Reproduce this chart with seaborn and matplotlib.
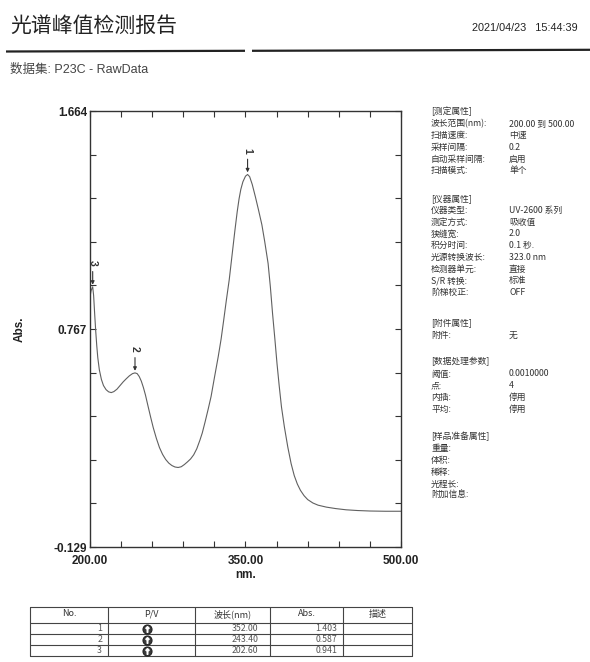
import numpy as np
import pandas as pd
import matplotlib
matplotlib.use("Agg")
import matplotlib.pyplot as plt
import seaborn as sns

# ---- spectrum data (wavelength in nm, absorbance) ----
wavelength = [
    200.0, 201.0, 202.6, 203.5, 204.5, 205.5, 206.5, 207.5, 209.0, 211.0,
    213.0, 215.5, 218.0, 220.5, 223.0, 226.0, 229.0, 232.0, 235.0, 238.0,
    241.0, 243.4, 245.5, 247.5, 249.5, 251.5, 253.5, 256.0, 258.5, 261.0,
    264.0, 267.0, 270.0, 273.0, 276.0, 279.0, 282.0, 285.0, 288.0, 291.0,
    294.0, 297.0, 300.0, 303.0, 306.0, 308.3, 311.0, 314.0, 316.8, 320.0,
    323.7, 326.5, 329.0, 331.5, 334.3, 337.0, 339.7, 342.0, 343.8, 345.5,
    347.5, 350.0, 352.0, 354.0, 356.5, 359.6, 362.5, 365.8, 368.5, 371.8,
    374.0, 376.1, 378.3, 380.4, 382.5, 384.7, 387.5, 390.8, 394.0, 397.0,
    400.0, 403.0, 406.5, 410.0, 415.0, 420.0, 428.0, 437.0, 447.0, 458.0,
    470.0, 485.0, 500.0,
]
absorbance = [
    0.900, 0.925, 0.941, 0.905, 0.830, 0.760, 0.700, 0.650, 0.600, 0.560,
    0.535, 0.518, 0.509, 0.506, 0.510, 0.520, 0.535, 0.550, 0.563, 0.575,
    0.584, 0.587, 0.584, 0.572, 0.553, 0.527, 0.496, 0.450, 0.405, 0.362,
    0.318, 0.280, 0.252, 0.231, 0.216, 0.206, 0.200, 0.198, 0.201, 0.210,
    0.221, 0.233, 0.250, 0.275, 0.310, 0.340, 0.385, 0.438, 0.490, 0.567,
    0.654, 0.727, 0.805, 0.885, 0.970, 1.070, 1.170, 1.250, 1.303, 1.342,
    1.373, 1.396, 1.403, 1.394, 1.362, 1.310, 1.258, 1.196, 1.128, 1.037,
    0.940, 0.831, 0.728, 0.625, 0.534, 0.447, 0.365, 0.282, 0.214, 0.165,
    0.130, 0.104, 0.082, 0.066, 0.052, 0.043, 0.035, 0.029, 0.024, 0.021,
    0.019, 0.018, 0.018,
]

# detected peaks
peak_no = [1, 2, 3]
peak_nm = [352.00, 243.40, 202.60]
peak_abs = [1.403, 0.587, 0.941]

# axis range and labelled ticks
y_min, y_max = -0.129, 1.664
ytick_labels = ["-0.129", "0.767", "1.664"]
x_min, x_max = 200.0, 500.0
xtick_labels = ["200.00", "350.00", "500.00"]

# instrument / method settings shown beside the chart
info_sections = [
    ("[测定属性]", [("波长范围(nm):", "200.00 到 500.00"), ("扫描速度:", "中速"),
                  ("采样间隔:", "0.2"), ("自动采样间隔:", "启用"), ("扫描模式:", "单个")]),
    ("[仪器属性]", [("仪器类型:", "UV-2600 系列"), ("测定方式:", "吸收值"),
                  ("狭缝宽:", "2.0"), ("积分时间:", "0.1 秒."),
                  ("光源转换波长:", "323.0 nm"), ("检测器单元:", "直接"),
                  ("S/R 转换:", "标准"), ("阶梯校正:", "OFF")]),
    ("[附件属性]", [("附件:", "无")]),
    ("[数据处理参数]", [("阈值:", "0.0010000"), ("点:", "4"),
                    ("内插:", "停用"), ("平均:", "停用")]),
    ("[样品准备属性]", [("重量:", ""), ("体积:", ""), ("稀释:", ""),
                    ("光程长:", ""), ("附加信息:", "")]),
]
section_tops = [111.7, 198.3, 323.3, 361.7, 436.7]

table_header = ["No.", "P/V", "波长(nm)", "Abs.", "描述"]

sns.set_theme(style="white")
plt.rcParams["font.family"] = ["Liberation Sans", "DejaVu Sans"]
CJK = ["Noto Sans CJK SC", "DejaVu Sans"]
LATIN_CJK = ["Liberation Sans", "Noto Sans CJK SC"]

W, H = 590, 662
fig = plt.figure(figsize=(W / 100, H / 100), dpi=100)
fig.patch.set_facecolor("white")

# page overlay in pixel coordinates
page = fig.add_axes([0, 0, 1, 1])
page.set_xlim(0, W)
page.set_ylim(H, 0)
page.axis("off")

page.text(10, 26, "光谱峰值检测报告", family=CJK, fontsize=15, color="#222222",
          va="center", ha="left")
page.text(578, 28, "2021/04/23   15:44:39", fontsize=7.8, color="#222222",
          va="center", ha="right")
page.plot([6, 245], [51.5, 50.8], color="#222222", lw=1.6, solid_capstyle="butt")
page.plot([252, 590], [50.8, 49.8], color="#222222", lw=1.6, solid_capstyle="butt")
page.text(10, 70, "数据集: P23C - RawData", family=LATIN_CJK, fontsize=9,
          color="#444444", va="center", ha="left")

# settings panel
for (title, items), top in zip(info_sections, section_tops):
    page.text(431, top, title, family=CJK, fontsize=6.3, color="#333333",
              va="center", ha="left")
    for i, (k, v) in enumerate(items):
        yy = top + 12.3 + 11.7 * i
        page.text(431, yy, k, family=CJK, fontsize=6.3, color="#333333",
                  va="center", ha="left")
        if v:
            page.text(509, yy, v, family=CJK, fontsize=6.3, color="#333333",
                      va="center", ha="left")

# peak table
col_x = [30, 108, 195, 270, 343, 412]
row_y = [607, 623, 634, 645, 656]
for yy in row_y:
    page.plot([col_x[0], col_x[-1]], [yy, yy], color="#444444", lw=0.8)
for xx in col_x:
    page.plot([xx, xx], [row_y[0], row_y[-1]], color="#444444", lw=0.8)
for j, h in enumerate(table_header):
    page.text((col_x[j] + col_x[j + 1]) / 2, (row_y[0] + row_y[1]) / 2 - 1, h,
              family=CJK, fontsize=6.5, color="#333333", ha="center", va="center")
for i, (n, wl, ab) in enumerate(zip(peak_no, peak_nm, peak_abs)):
    yc = (row_y[i + 1] + row_y[i + 2]) / 2
    page.text(102, yc, str(n), family=CJK, fontsize=6.3, color="#555555",
              ha="right", va="center")
    page.plot([147], [yc], marker="o", ms=6.5, mfc="#3a3a3a", mec="#222222", mew=0.8)
    page.plot([147], [yc], marker=r"$\uparrow$", ms=4.0, color="white")
    page.text(258, yc, f"{wl:.2f}", family=CJK, fontsize=6.3, color="#555555",
              ha="right", va="center")
    page.text(337, yc, f"{ab:.3f}", family=CJK, fontsize=6.3, color="#555555",
              ha="right", va="center")

# spectrum chart
ax = fig.add_axes([90 / W, 1 - 547 / H, 311 / W, 436 / H])
df = pd.DataFrame({"nm": wavelength, "Abs": absorbance})
sns.lineplot(data=df, x="nm", y="Abs", ax=ax, color="#606060", linewidth=0.8,
             estimator=None, sort=False)
ax.set_xlim(x_min, x_max)
ax.set_ylim(y_min, y_max)

yt = np.linspace(y_min, y_max, 11)
ax.set_yticks(yt)
ax.set_yticklabels([ytick_labels[k // 5] if k % 5 == 0 else "" for k in range(11)])
xt = np.arange(x_min, x_max + 1, 30)
ax.set_xticks(xt)
ax.set_xticklabels([xtick_labels[k // 5] if k % 5 == 0 else "" for k in range(11)])
ax.tick_params(axis="both", which="both", direction="in", length=4, width=0.8,
               color="#333333", top=True, right=True, bottom=True, left=True,
               labelsize=8.5, labelcolor="#222222")
ax.tick_params(axis="y", pad=2)
ax.tick_params(axis="x", pad=6)
for lab in ax.get_xticklabels() + ax.get_yticklabels():
    lab.set_fontweight("bold")
for s in ax.spines.values():
    s.set_visible(True)
    s.set_color("#333333")
    s.set_linewidth(1.0)
ax.set_xlabel("nm.", fontsize=8.5, fontweight="bold", color="#222222", labelpad=1)
ax.set_ylabel("Abs.", fontsize=8.5, fontweight="bold", color="#222222", labelpad=20)
ax.grid(False)

# peak markers
for n, wl, ab in zip(peak_no, peak_nm, peak_abs):
    ax.annotate("", xy=(wl, ab), xytext=(0, 11), textcoords="offset points",
                xycoords="data",
                arrowprops=dict(arrowstyle="-|>", color="#333333", lw=0.8,
                                mutation_scale=5, shrinkA=0, shrinkB=1.5))
    ax.annotate(str(n), xy=(wl, ab), xytext=(0, 17), textcoords="offset points",
                ha="center", va="center", rotation=-90, fontsize=7.5,
                fontweight="bold", color="#333333")

fig.savefig("out.png", dpi=100, facecolor="white")
